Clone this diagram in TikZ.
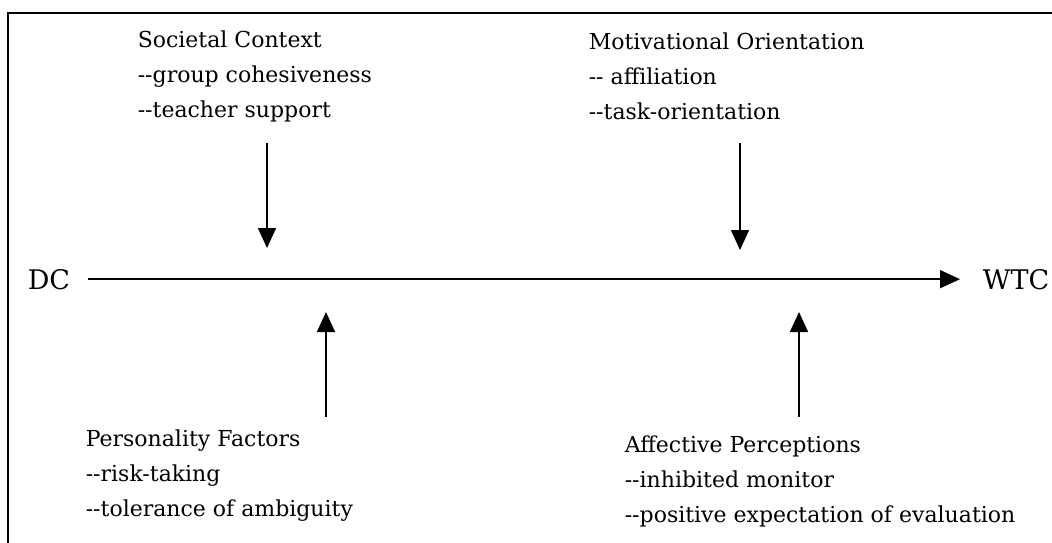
\documentclass[tikz,border=0pt]{standalone}
\usepackage{fontspec}
\setmainfont{DejaVu Serif}
\usetikzlibrary{arrows.meta}

\begin{document}
\begin{tikzpicture}[
x=1pt, y=-1pt,
factor/.style={
	align=left, inner sep=0pt, anchor=base west,
	font=\fontsize{22}{35}\selectfont
},
pole/.style={
	inner sep=0pt, anchor=base west,
	font=\fontsize{27}{32}\selectfont
},
>={Triangle[length=20pt,width=18pt]}, line width=1.6pt
]
\useasboundingbox (0,0) rectangle (1052,543);
\draw[line width=1.5pt] (8,560) -- (8,13) -- (1070,13);
% base anchor sits on the last line
\node[factor] (soc) at (137,117) {Societal Context\\-{}-group cohesiveness\\-{}-teacher support};
\node[factor] (mot) at (588,119) {Motivational Orientation\\-{}- affiliation\\-{}-task-orientation};
\node[factor] (per) at (85,516) {Personality Factors\\-{}-risk-taking\\-{}-tolerance of ambiguity};
\node[factor] (aff) at (624,522) {Affective Perceptions\\-{}-inhibited monitor\\-{}-positive expectation of evaluation};
\node[pole] (dc) at (27,289) {DC};
\node[pole] (wtc) at (982,289) {WTC};
\draw[->, shorten <=17pt, shorten >=22pt] (dc.east) -- (wtc.west);
\coordinate (soc-a) at (267,143);
\coordinate (soc-b) at (267,248);
\coordinate (mot-a) at (740,143);
\coordinate (mot-b) at (740,250);
\coordinate (per-a) at (326,417);
\coordinate (per-b) at (326,312);
\coordinate (aff-a) at (799,417);
\coordinate (aff-b) at (799,312);
\foreach \i in {soc,mot,per,aff}
{
	\draw[->] (\i-a) -- (\i-b);
}
\end{tikzpicture}
\end{document}
